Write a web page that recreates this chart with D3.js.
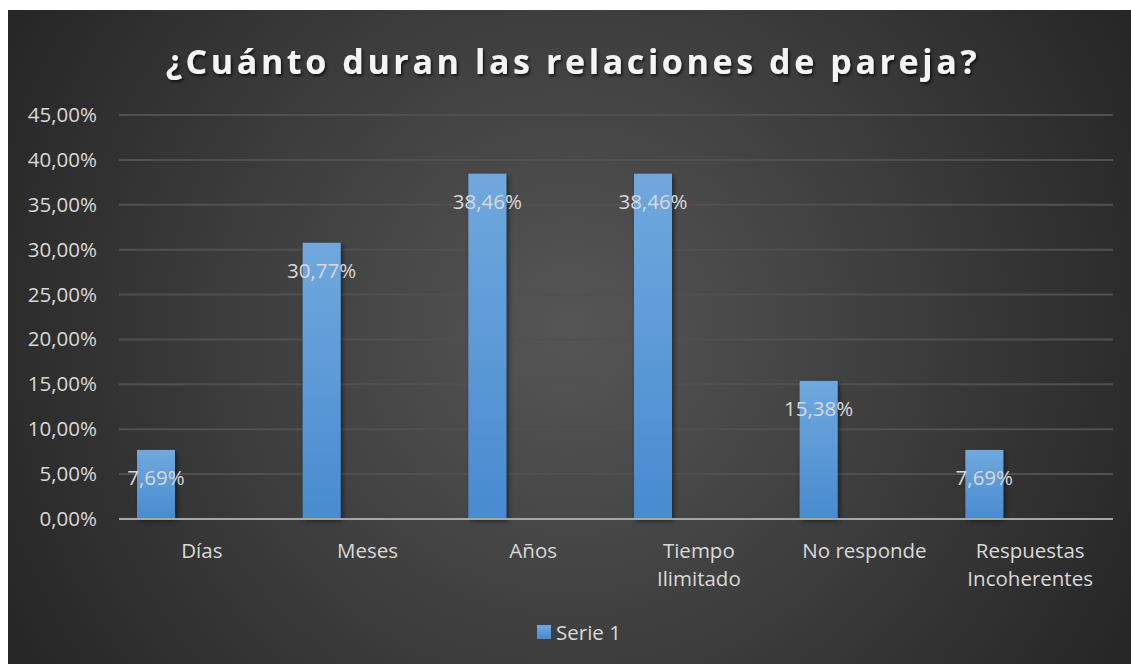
<!DOCTYPE html>
<html>
<head>
<meta charset="utf-8">
<script src="https://cdn.jsdelivr.net/npm/d3@7"></script>
<style>
  body { margin: 0; background: #fff; }
  text { font-family: "Open Sans", "DejaVu Sans", sans-serif; }
</style>
</head>
<body>
<div class="chart"></div>
<script>
var w = 1131;
var h = 664;
var frame = {left: 8, top: 10, right: 1131, bottom: 664};
var margin = {top: 115, right: 18, bottom: 145, left: 119};

var categories = [["Días"], ["Meses"], ["Años"], ["Tiempo", "Ilimitado"], ["No responde"], ["Respuestas", "Incoherentes"]];
var values = [7.69, 30.77, 38.46, 38.46, 15.38, 7.69];
var ticks = [0, 5, 10, 15, 20, 25, 30, 35, 40, 45];
var seriesName = "Serie 1";
var title = "¿Cuánto duran las relaciones de pareja?";

var fmt = function (v) { return v.toFixed(2).replace(".", ","); };
var fs = 20.5;

var svg = d3.select(".chart")
            .append("svg")
            .attr("width", w)
            .attr("height", h);

var defs = svg.append("defs");

// background gradient
var bg = defs.append("radialGradient")
    .attr("id", "bg")
    .attr("gradientUnits", "userSpaceOnUse")
    .attr("cx", 570).attr("cy", 330).attr("r", 640);
bg.append("stop").attr("offset", "0%").attr("stop-color", "#565656");
bg.append("stop").attr("offset", "100%").attr("stop-color", "#262626");

var barGrad = defs.append("linearGradient")
    .attr("id", "bar")
    .attr("x1", 0).attr("y1", 0).attr("x2", 0).attr("y2", 1);
barGrad.append("stop").attr("offset", "0%").attr("stop-color", "#70a8de");
barGrad.append("stop").attr("offset", "100%").attr("stop-color", "#488bd0");

var shadow = defs.append("filter").attr("id", "shadow")
    .attr("x", "-30%").attr("y", "-30%").attr("width", "160%").attr("height", "160%");
shadow.append("feDropShadow").attr("dx", 2).attr("dy", 2).attr("stdDeviation", 2.5)
    .attr("flood-color", "#000").attr("flood-opacity", 0.5);

var tshadow = defs.append("filter").attr("id", "tshadow");
tshadow.append("feDropShadow").attr("dx", 1.5).attr("dy", 2).attr("stdDeviation", 1.5)
    .attr("flood-color", "#000").attr("flood-opacity", 0.7);

svg.append("rect")
   .attr("x", frame.left).attr("y", frame.top)
   .attr("width", frame.right - frame.left).attr("height", frame.bottom - frame.top)
   .attr("fill", "url(#bg)");

// scales
var xScale = d3.scaleBand()
    .domain(d3.range(categories.length))
    .range([margin.left, w - margin.right]);

var yScale = d3.scaleLinear()
    .domain([0, 45])
    .range([519, margin.top]);

var barOffset = 18;
var barWidth = 38;

// gridlines
svg.append("g")
   .selectAll("line")
   .data(ticks.slice(1))
   .enter()
   .append("line")
   .attr("x1", margin.left)
   .attr("x2", w - margin.right)
   .attr("y1", (d) => yScale(d))
   .attr("y2", (d) => yScale(d))
   .attr("stroke", "#505050")
   .attr("stroke-width", 2);

// y axis labels
svg.append("g")
   .selectAll("text")
   .data(ticks)
   .enter()
   .append("text")
   .attr("x", 97)
   .attr("y", (d) => yScale(d) + 7)
   .attr("text-anchor", "end")
   .attr("fill", "#d9d9d9")
   .attr("font-size", fs)
   .text((d) => fmt(d) + "%");

// bars
svg.append("g")
   .selectAll("rect")
   .data(values)
   .enter()
   .append("rect")
   .attr("x", (d, i) => xScale(i) + barOffset)
   .attr("y", (d) => yScale(d))
   .attr("width", barWidth)
   .attr("height", (d) => yScale(0) - yScale(d))
   .attr("fill", "url(#bar)")
   .attr("filter", "url(#shadow)");

// axis line
svg.append("line")
   .attr("x1", margin.left)
   .attr("x2", w - margin.right)
   .attr("y1", yScale(0))
   .attr("y2", yScale(0))
   .attr("stroke", "#a6a6a6")
   .attr("stroke-width", 2);

// data labels
svg.append("g")
   .selectAll("text")
   .data(values)
   .enter()
   .append("text")
   .attr("x", (d, i) => xScale(i) + barOffset + barWidth / 2)
   .attr("y", (d) => yScale(d) + 35)
   .attr("text-anchor", "middle")
   .attr("fill", "#d9d9d9")
   .attr("font-size", fs)
   .text((d) => fmt(d) + "%");

// category labels
var cat = svg.append("g")
   .selectAll("text")
   .data(categories)
   .enter()
   .append("text")
   .attr("text-anchor", "middle")
   .attr("fill", "#d9d9d9")
   .attr("font-size", fs);

cat.selectAll("tspan")
   .data((d, i) => d.map((s) => ({s: s, i: i})))
   .enter()
   .append("tspan")
   .attr("x", (d) => xScale(d.i) + xScale.bandwidth() / 2)
   .attr("y", (d, j) => 558 + j * 28)
   .text((d) => d.s);

// title
svg.append("text")
   .attr("x", 573)
   .attr("y", 74)
   .attr("text-anchor", "middle")
   .attr("fill", "#f4f4f4")
   .attr("font-size", 34)
   .attr("font-weight", "bold")
   .attr("letter-spacing", 3.6)
   .attr("filter", "url(#tshadow)")
   .text(title);

// legend
svg.append("rect")
   .attr("x", 537).attr("y", 625)
   .attr("width", 14).attr("height", 14)
   .attr("fill", "url(#bar)");

svg.append("text")
   .attr("x", 556)
   .attr("y", 640)
   .attr("fill", "#d9d9d9")
   .attr("font-size", fs)
   .text(seriesName);
</script>
</body>
</html>
